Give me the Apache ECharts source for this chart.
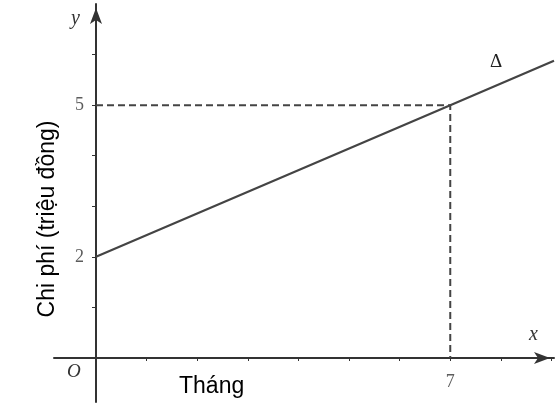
<!DOCTYPE html>
<html><head><meta charset="utf-8">
<script src="https://cdn.jsdelivr.net/npm/echarts@6/dist/echarts.min.js"></script>
<style>html,body{margin:0;padding:0;background:#fff}#c{width:556px;height:408px}</style>
</head><body><div id="c"></div>
<script>
// Data
const lineX = [0, 7, 9.05];
const lineY = [2, 5, 5.88];
const guideX = [0, 7, 7];
const guideY = [5, 5, 0];
const xTicks = [1, 2, 3, 4, 5, 6, 7, 8, 9];
const yTicks = [1, 2, 3, 4, 5, 6];
const xTickLabels = [7];
const yTickLabels = [2, 5];
const xName = 'Tháng';
const yName = 'Chi phí (triệu đồng)';

const chart = echarts.init(document.getElementById('c'), null, {renderer: 'canvas'});
const serif = '"Liberation Serif","DejaVu Serif",serif';
const axisColor = '#333';
const labelStyle = {color: '#333', fontFamily: serif, fontSize: 18};
chart.setOption({
  animation: false,
  grid: {left: 54, right: 2, top: 4, bottom: 6, outerBoundsMode: 'none', containLabel: false},
  xAxis: {
    type: 'value', min: -0.83, max: 9.05,
    splitLine: {show: false},
    axisLine: {onZero: true, lineStyle: {color: axisColor, width: 2}, symbol: ['none', 'arrow'], symbolSize: [9, 16], symbolOffset: [0, -4]},
    axisTick: {show: true, customValues: xTicks, length: 3, lineStyle: {color: axisColor, width: 1}},
    axisLabel: {show: false}
  },
  yAxis: {
    type: 'value', min: -0.87, max: 7.0,
    splitLine: {show: false},
    axisLine: {onZero: true, lineStyle: {color: axisColor, width: 2}, symbol: ['none', 'arrow'], symbolSize: [9, 16], symbolOffset: [0, -4]},
    axisTick: {show: true, customValues: yTicks, length: 4, lineStyle: {color: axisColor, width: 1}},
    axisLabel: {show: false}
  },
  series: [
    {
      type: 'line', data: guideX.map((x, i) => [x, guideY[i]]), symbol: 'none',
      lineStyle: {color: '#444', width: 2, type: [7, 4]}, z: 2
    },
    {
      type: 'line', data: lineX.map((x, i) => [x, lineY[i]]), symbol: 'none',
      lineStyle: {color: '#444', width: 2.2}, z: 3
    },
    {
      type: 'scatter', symbolSize: 0, silent: true,
      data: yTickLabels.map(v => [0, v]),
      label: {show: true, position: 'left', distance: 12, formatter: p => String(p.value[1]), ...labelStyle}
    },
    {
      type: 'scatter', symbolSize: 0, silent: true,
      data: xTickLabels.map(v => [v, 0]),
      label: {show: true, position: 'bottom', distance: 15, formatter: p => String(p.value[0]), ...labelStyle}
    }
  ],
  graphic: [
    {type: 'text', left: 71, top: 9, style: {text: 'y', font: 'italic 20px ' + serif, fill: '#333'}},
    {type: 'text', left: 529, top: 325, style: {text: 'x', font: 'italic 20px ' + serif, fill: '#333'}},
    {type: 'text', left: 67, top: 362, style: {text: 'O', font: 'italic 19px ' + serif, fill: '#333'}},
    {type: 'text', left: 490, top: 53, style: {text: 'Δ', font: '19px ' + serif, fill: '#222'}},
    {type: 'text', left: 179, top: 375, style: {text: xName, font: '23px "Liberation Sans",Arial,sans-serif', fill: '#000'}},
    {type: 'text', x: 48, y: 219, rotation: Math.PI / 2, style: {text: yName, font: '23px "Liberation Sans",Arial,sans-serif', fill: '#000', align: 'center', verticalAlign: 'middle'}}
  ]
});
</script></body></html>
